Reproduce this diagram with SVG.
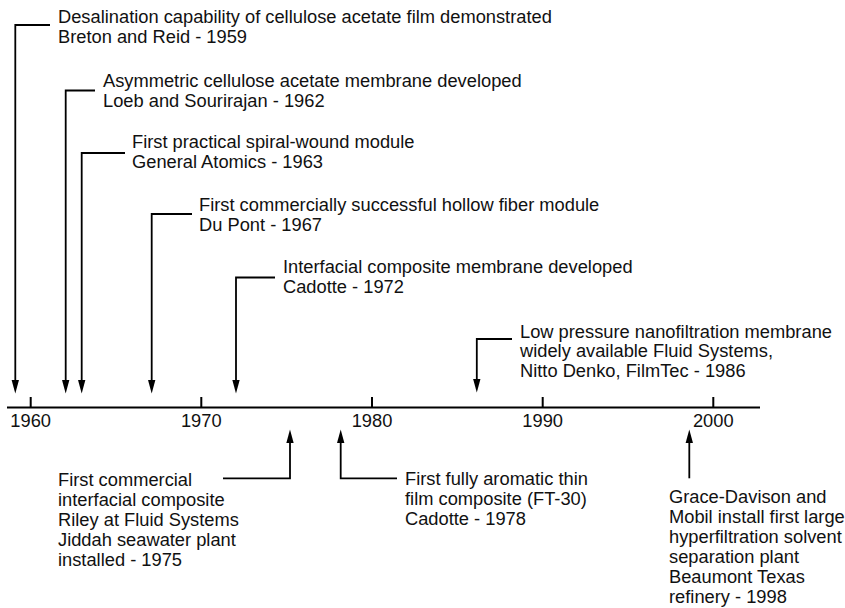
<svg xmlns="http://www.w3.org/2000/svg" width="845" height="608" viewBox="0 0 845 608">
<style>
text{font-family:"Liberation Sans",Arial,Helvetica,sans-serif;font-size:18.3px;fill:#111}
.yr{text-anchor:middle}
.c{fill:none;stroke:#000;stroke-width:1.8}
.ax{fill:none;stroke:#000;stroke-width:2}
</style>
<defs>
<marker id="ah" markerUnits="userSpaceOnUse" markerWidth="14" markerHeight="8" viewBox="0 0 13 7" refX="5" refY="3.5" orient="auto">
<path d="M0,0 L13,3.5 L0,7 z" fill="#000"/>
</marker>
</defs>
<g id="axis">
<path class="ax" d="M7,407.5 H760"/>
<path class="ax" d="M30.7,397 V407 M201.3,397 V407 M372,397 V407 M542.7,397 V407 M713.3,397 V407"/>
<text class="yr" x="30.7" y="427">1960</text>
<text class="yr" x="201.3" y="427">1970</text>
<text class="yr" x="372" y="427">1980</text>
<text class="yr" x="542.7" y="427">1990</text>
<text class="yr" x="713.3" y="427">2000</text>
</g>
<g id="connectors">
<path class="c" marker-end="url(#ah)" d="M50,25 H15.3 V385"/>
<path class="c" marker-end="url(#ah)" d="M95,90.5 H65.7 V385"/>
<path class="c" marker-end="url(#ah)" d="M125,153 H81.7 V385"/>
<path class="c" marker-end="url(#ah)" d="M192,214 H151.7 V385"/>
<path class="c" marker-end="url(#ah)" d="M275,277.5 H236 V385"/>
<path class="c" marker-end="url(#ah)" d="M512,339 H476.8 V384"/>
<path class="c" marker-end="url(#ah)" d="M223,478.3 H290 V438"/>
<path class="c" marker-end="url(#ah)" d="M397,478.3 H340.7 V438"/>
<path class="c" marker-end="url(#ah)" d="M689.3,478.3 V438"/>
</g>
<g id="e1959">
<text x="58" y="23">Desalination capability of cellulose acetate film demonstrated</text>
<text x="58" y="43">Breton and Reid - 1959</text>
</g>
<g id="e1962">
<text x="103" y="87">Asymmetric cellulose acetate membrane developed</text>
<text x="103" y="107">Loeb and Sourirajan - 1962</text>
</g>
<g id="e1963">
<text x="132" y="148">First practical spiral-wound module</text>
<text x="132" y="168">General Atomics - 1963</text>
</g>
<g id="e1967">
<text x="199" y="211">First commercially successful hollow fiber module</text>
<text x="199" y="231">Du Pont - 1967</text>
</g>
<g id="e1972">
<text x="283" y="273">Interfacial composite membrane developed</text>
<text x="283" y="293">Cadotte - 1972</text>
</g>
<g id="e1986">
<text x="520" y="337.5">Low pressure nanofiltration membrane</text>
<text x="520" y="357">widely available Fluid Systems,</text>
<text x="520" y="376.5">Nitto Denko, FilmTec - 1986</text>
</g>
<g id="e1975">
<text x="58" y="486">First commercial</text>
<text x="58" y="506">interfacial composite</text>
<text x="58" y="526">Riley at Fluid Systems</text>
<text x="58" y="546">Jiddah seawater plant</text>
<text x="58" y="566">installed - 1975</text>
</g>
<g id="e1978">
<text x="405" y="485">First fully aromatic thin</text>
<text x="405" y="505">film composite (FT-30)</text>
<text x="405" y="525">Cadotte - 1978</text>
</g>
<g id="e1998">
<text x="669" y="503">Grace-Davison and</text>
<text x="669" y="523">Mobil install first large</text>
<text x="669" y="543">hyperfiltration solvent</text>
<text x="669" y="563">separation plant</text>
<text x="669" y="583">Beaumont Texas</text>
<text x="669" y="603">refinery - 1998</text>
</g>
</svg>
